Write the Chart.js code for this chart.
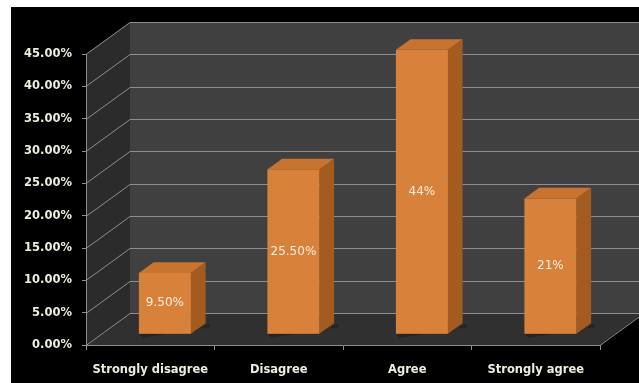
<!DOCTYPE html>
<html>
<head>
<meta charset="utf-8">
<script src="https://cdn.jsdelivr.net/npm/chart.js@4.4.1/dist/chart.umd.min.js"></script>
<style>
  html, body { margin: 0; padding: 0; background: #ffffff; }
  #wrap { width: 639px; height: 383px; position: relative; }
</style>
</head>
<body>
<div id="wrap"><canvas id="c" width="639" height="383"></canvas></div>
<script>
const CATEGORIES = ['Strongly disagree', 'Disagree', 'Agree', 'Strongly agree'];
const VALUES = [9.5, 25.5, 44, 21];
const VALUE_LABELS = ['9.50%', '25.50%', '44%', '21%'];
const Y_TICKS = [0, 5, 10, 15, 20, 25, 30, 35, 40, 45];

const DEPTH_X = 44, DEPTH_Y = -32;
const TEXT_COLOR = '#eeeede';
const GRID_COLOR = '#8e8e8e';

const threeD = {
  id: 'threeD',
  beforeDraw(chart) {
    const ctx = chart.ctx;
    const W = chart.width, H = chart.height;
    const a = chart.chartArea;
    const ys = chart.scales.y;
    ctx.save();
    ctx.fillStyle = '#ffffff';
    ctx.fillRect(0, 0, W, H);
    ctx.fillStyle = '#000000';
    ctx.fillRect(11, 7, W - 11, H - 7);
    const yTop = ys.getPixelForValue(Y_TICKS[Y_TICKS.length - 1]);
    const yBot = ys.getPixelForValue(0);
    // back wall
    ctx.fillStyle = '#404040';
    ctx.fillRect(a.left + DEPTH_X, yTop + DEPTH_Y, W - (a.left + DEPTH_X), yBot - yTop);
    // side wall
    ctx.fillStyle = '#2b2b2b';
    ctx.beginPath();
    ctx.moveTo(a.left, yTop);
    ctx.lineTo(a.left + DEPTH_X, yTop + DEPTH_Y);
    ctx.lineTo(a.left + DEPTH_X, yBot + DEPTH_Y);
    ctx.lineTo(a.left, yBot);
    ctx.closePath();
    ctx.fill();
    // floor
    ctx.fillStyle = '#303030';
    ctx.beginPath();
    ctx.moveTo(a.left, yBot);
    ctx.lineTo(a.right, yBot);
    ctx.lineTo(a.right + DEPTH_X, yBot + DEPTH_Y);
    ctx.lineTo(a.left + DEPTH_X, yBot + DEPTH_Y);
    ctx.closePath();
    ctx.fill();
    // gridlines
    ctx.strokeStyle = GRID_COLOR;
    ctx.lineWidth = 1;
    Y_TICKS.forEach(v => {
      const y = Math.round(ys.getPixelForValue(v)) + 0.5;
      ctx.beginPath();
      ctx.moveTo(a.left, y);
      ctx.lineTo(a.left + DEPTH_X, y + DEPTH_Y);
      ctx.lineTo(W, y + DEPTH_Y);
      ctx.stroke();
    });
    // floor right edge
    ctx.beginPath();
    ctx.moveTo(a.right, Math.round(yBot) + 0.5);
    ctx.lineTo(a.right + DEPTH_X, Math.round(yBot) + 0.5 + DEPTH_Y);
    ctx.stroke();
    ctx.restore();
  },
  afterDatasetsDraw(chart) {
    const ctx = chart.ctx;
    const meta = chart.getDatasetMeta(0);
    const bx = DEPTH_X / 3, by = DEPTH_Y / 3;
    ctx.save();
    meta.data.forEach((bar, i) => {
      const p = bar.getProps(['x', 'y', 'base', 'width'], true);
      const l = p.x - p.width / 2 + bx;
      const r = p.x + p.width / 2 + bx;
      const t = p.y + by;
      const b = p.base + by;
      // shadow on floor
      ctx.fillStyle = 'rgba(0,0,0,0.25)';
      ctx.beginPath();
      ctx.moveTo(r, b);
      ctx.lineTo(r + bx + 4, b + by);
      ctx.lineTo(r + bx + 4, b + by + 4);
      ctx.lineTo(l + 4, b + 4);
      ctx.lineTo(l, b);
      ctx.closePath();
      ctx.fill();
      // side face
      ctx.fillStyle = '#a35b20';
      ctx.beginPath();
      ctx.moveTo(r, t);
      ctx.lineTo(r + bx, t + by);
      ctx.lineTo(r + bx, b + by);
      ctx.lineTo(r, b);
      ctx.closePath();
      ctx.fill();
      // top face
      ctx.fillStyle = '#c8732e';
      ctx.beginPath();
      ctx.moveTo(l, t);
      ctx.lineTo(l + bx, t + by);
      ctx.lineTo(r + bx, t + by);
      ctx.lineTo(r, t);
      ctx.closePath();
      ctx.fill();
      // front face
      ctx.fillStyle = '#d7813a';
      ctx.fillRect(l, t, r - l, b - t);
      // label
      ctx.fillStyle = '#f6efe2';
      ctx.font = '12px "DejaVu Sans"';
      ctx.textAlign = 'center';
      ctx.textBaseline = 'middle';
      ctx.fillText(VALUE_LABELS[i], (l + r) / 2, (t + b) / 2);
    });
    ctx.restore();
  }
};

new Chart(document.getElementById('c'), {
  type: 'bar',
  data: {
    labels: CATEGORIES,
    datasets: [{
      data: VALUES,
      backgroundColor: 'rgba(0,0,0,0)',
      borderWidth: 0,
      barPercentage: 0.405,
      categoryPercentage: 1
    }]
  },
  options: {
    responsive: false,
    animation: false,
    events: [],
    layout: { padding: { top: 54, right: 39, left: 11, bottom: 0 } },
    plugins: { legend: { display: false }, tooltip: { enabled: false } },
    scales: {
      x: {
        afterFit(s) { s.height = 38; },
        grid: { drawOnChartArea: false, drawTicks: true, tickLength: 5, color: GRID_COLOR },
        border: { display: true, color: GRID_COLOR },
        ticks: { color: TEXT_COLOR, padding: 13, maxRotation: 0, font: { family: 'DejaVu Sans', size: 11.5, weight: 'bold' } }
      },
      y: {
        min: 0, max: 45,
        afterFit(s) { s.width = 75; },
        afterBuildTicks(s) { s.ticks = Y_TICKS.map(v => ({ value: v })); },
        grid: { drawOnChartArea: false, drawTicks: true, tickLength: 4, color: GRID_COLOR },
        border: { display: true, color: GRID_COLOR },
        ticks: {
          color: TEXT_COLOR, padding: 10,
          font: { family: 'DejaVu Sans', size: 11.5, weight: 'bold' },
          callback: v => v.toFixed(2) + '%'
        }
      }
    }
  },
  plugins: [threeD]
});
</script>
</body>
</html>
